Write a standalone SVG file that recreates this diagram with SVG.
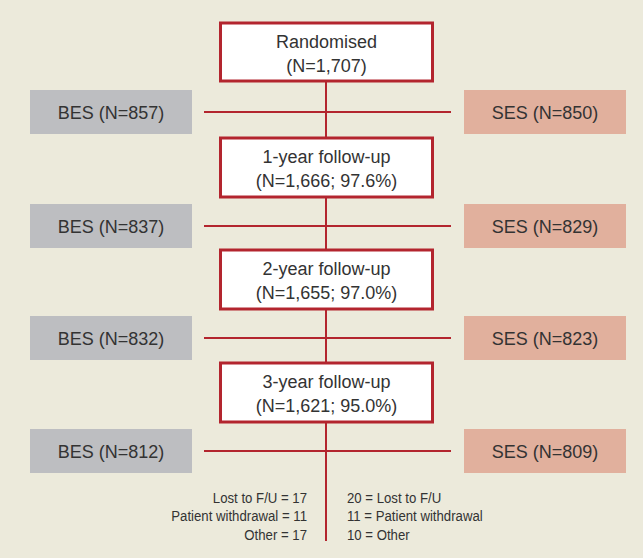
<svg xmlns="http://www.w3.org/2000/svg" width="643" height="558" viewBox="0 0 643 558">
<style>
.main rect{fill:#ffffff;stroke:#B3252E;stroke-width:3}
.bes rect{fill:#BDBEC1}
.ses rect{fill:#E1B09D}
.t{font-family:"Liberation Sans",Arial,sans-serif;font-size:18px;fill:#333333;text-anchor:middle}
.s{font-family:"Liberation Sans",Arial,sans-serif;font-size:15px;fill:#333333}
.conn line{stroke:#B3252E;stroke-width:2}
</style>
<rect x="0" y="0" width="643" height="558" fill="#ECEADB"/>
<g id="connectors" class="conn">
<line x1="326" y1="82" x2="326" y2="541"/>
<line x1="204" y1="112" x2="451" y2="112"/>
<line x1="204" y1="226" x2="451" y2="226"/>
<line x1="204" y1="338" x2="451" y2="338"/>
<line x1="204" y1="451" x2="451" y2="451"/>
</g>
<g id="randomised" class="main"><rect x="220.5" y="23" width="212" height="58"/><text class="t" x="326.5" y="48">Randomised</text><text class="t" x="326.5" y="72">(N=1,707)</text></g>
<g id="fu1" class="main"><rect x="220.5" y="138" width="212" height="59"/><text class="t" x="326.5" y="163">1-year follow-up</text><text class="t" x="326.5" y="187">(N=1,666; 97.6%)</text></g>
<g id="fu2" class="main"><rect x="220.5" y="250" width="212" height="59"/><text class="t" x="326.5" y="275">2-year follow-up</text><text class="t" x="326.5" y="299">(N=1,655; 97.0%)</text></g>
<g id="fu3" class="main"><rect x="220.5" y="363" width="212" height="59"/><text class="t" x="326.5" y="388">3-year follow-up</text><text class="t" x="326.5" y="412">(N=1,621; 95.0%)</text></g>
<g id="bes1" class="bes"><rect x="30" y="90" width="162" height="44"/><text class="t" x="111" y="118.5">BES (N=857)</text></g>
<g id="ses1" class="ses"><rect x="464" y="90" width="162" height="44"/><text class="t" x="545" y="118.5">SES (N=850)</text></g>
<g id="bes2" class="bes"><rect x="30" y="204" width="162" height="44"/><text class="t" x="111" y="232.5">BES (N=837)</text></g>
<g id="ses2" class="ses"><rect x="464" y="204" width="162" height="44"/><text class="t" x="545" y="232.5">SES (N=829)</text></g>
<g id="bes3" class="bes"><rect x="30" y="316" width="162" height="44"/><text class="t" x="111" y="344.5">BES (N=832)</text></g>
<g id="ses3" class="ses"><rect x="464" y="316" width="162" height="44"/><text class="t" x="545" y="344.5">SES (N=823)</text></g>
<g id="bes4" class="bes"><rect x="30" y="429" width="162" height="44"/><text class="t" x="111" y="457.5">BES (N=812)</text></g>
<g id="ses4" class="ses"><rect x="464" y="429" width="162" height="44"/><text class="t" x="545" y="457.5">SES (N=809)</text></g>
<g id="bes-loss" class="s" text-anchor="end" transform="translate(307,0) scale(0.88,1)">
<text x="0" y="503">Lost to F/U = 17</text>
<text x="0" y="521.5">Patient withdrawal = 11</text>
<text x="0" y="540">Other = 17</text>
</g>
<g id="ses-loss" class="s" text-anchor="start" transform="translate(347,0) scale(0.88,1)">
<text x="0" y="503">20 = Lost to F/U</text>
<text x="0" y="521.5">11 = Patient withdrawal</text>
<text x="0" y="540">10 = Other</text>
</g>
</svg>
